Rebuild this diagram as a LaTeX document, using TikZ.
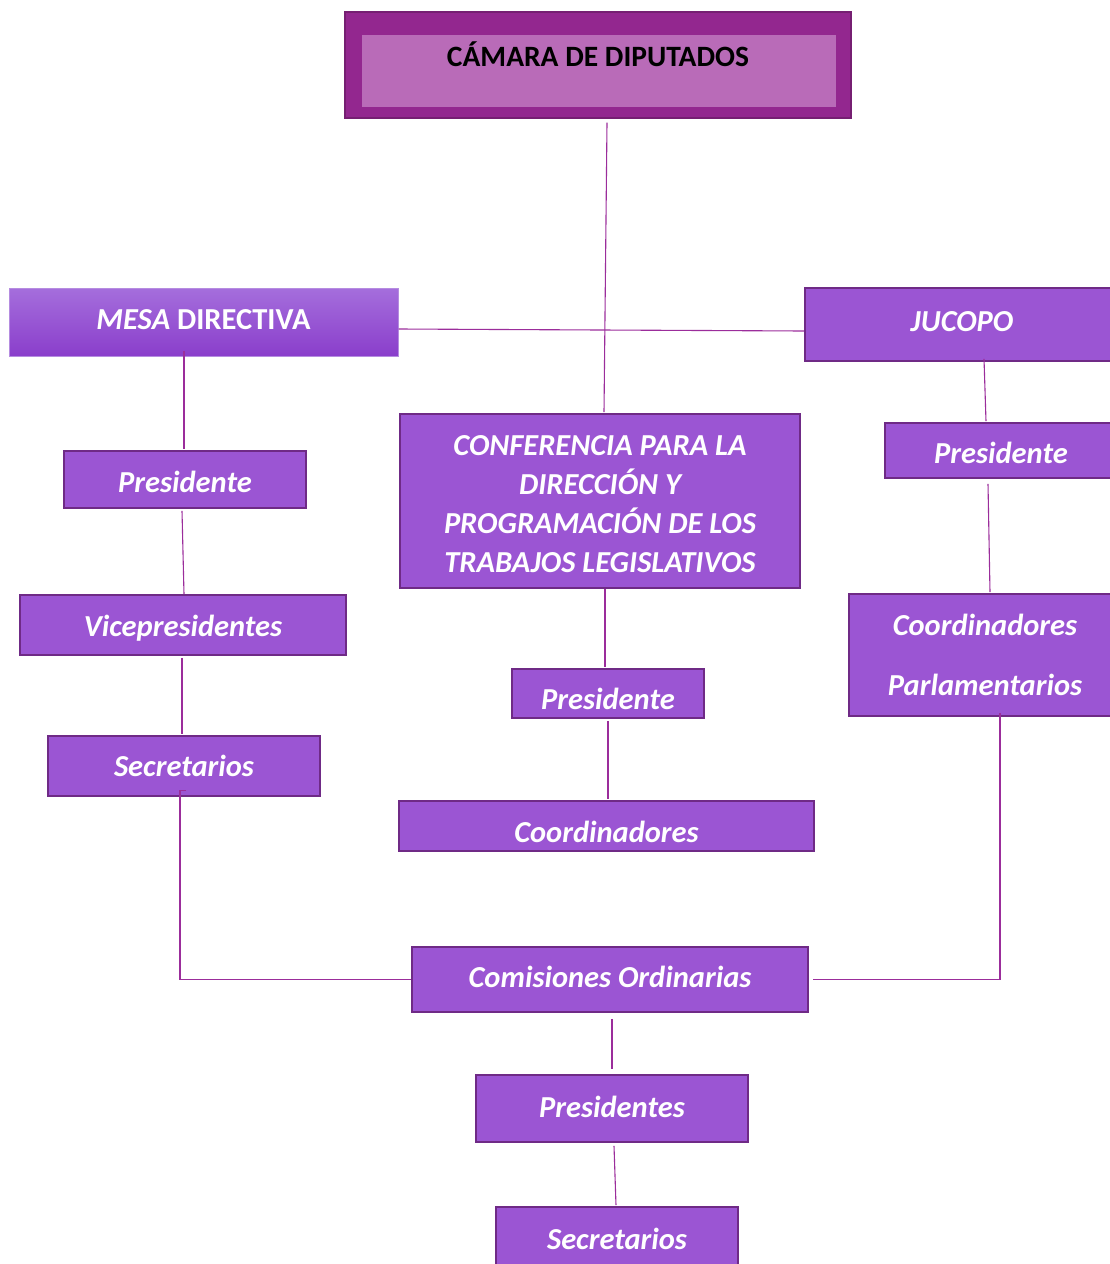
\documentclass[tikz,border=0pt]{standalone}
\usepackage{fontspec}
\setmainfont{Carlito}
\usetikzlibrary{calc}
\definecolor{boxfill}{HTML}{9B55D3}
\definecolor{boxbord}{HTML}{6F2A86}
\definecolor{camout}{HTML}{93278F}
\definecolor{camin}{HTML}{B96BB8}
\definecolor{linec}{HTML}{9B2D9B}
\definecolor{mesatop}{HTML}{A56EDC}
\definecolor{mesabot}{HTML}{8A3ECB}
\definecolor{mesabord}{HTML}{B58CE0}
\newcommand{\shiftv}[2]{\raisebox{#1}[\height][\depth]{#2}}
\tikzset{
  orgbox/.style={draw=boxbord, fill=boxfill, line width=1.6pt, text=white,
    font=\fontsize{30.5}{39}\selectfont\bfseries\itshape, inner sep=0pt, align=center, anchor=center},
  conn/.style={draw=linec, line width=1.1pt}
}
\begin{document}
\begin{tikzpicture}[x=1pt,y=-1pt]
\useasboundingbox (0,0) rectangle (1110,1264);
\begin{scope}
\clip (0,0) rectangle (1110,1264);
% top box
\node[draw=camout!80!black, fill=camout, line width=1.2pt, minimum width=506pt, minimum height=106pt, inner sep=0pt] (cam) at (598,65) {};
\node[fill=camin, minimum width=474pt, minimum height=72pt, inner sep=0pt] (camin) at (599,71) {};
\node[font=\fontsize{29.5}{32}\selectfont\bfseries, text=black, inner sep=0pt] (camt) at (598,54) {CÁMARA DE DIPUTADOS};
% level 1
\node[orgbox, draw=mesabord, line width=1pt, top color=mesatop, bottom color=mesabot, minimum width=389pt, minimum height=68pt] (mesa) at (203.5,322) {\shiftv{2pt}{{\itshape MESA} {\upshape DIRECTIVA}}};
\node[orgbox, minimum width=314pt, minimum height=73pt] (jucopo) at (962,324.5) {\shiftv{3pt}{JUCOPO}};
\node[orgbox, minimum width=400pt, minimum height=174pt] (conf) at (600,501) {\shiftv{-3pt}{\parbox{390pt}{\centering CONFERENCIA PARA LA\\DIRECCIÓN Y\\PROGRAMACIÓN DE LOS\\TRABAJOS LEGISLATIVOS}}};
% left column
\node[orgbox, minimum width=242pt, minimum height=57pt] (presL) at (185,479.5) {\shiftv{-2pt}{Presidente}};
\node[orgbox, minimum width=326pt, minimum height=60pt] (vice) at (183,625) {\shiftv{-3pt}{Vicepresidentes}};
\node[orgbox, minimum width=272pt, minimum height=60pt] (secL) at (184,766) {Secretarios};
% middle column
\node[orgbox, minimum width=192pt, minimum height=49pt] (presM) at (608,693.5) {\shiftv{-5pt}{Presidente}};
\node[orgbox, minimum width=415pt, minimum height=50pt] (coord) at (606.5,826) {\shiftv{-6pt}{Coordinadores}};
% right column
\node[orgbox, minimum width=232pt, minimum height=55pt] (presR) at (1001,450.5) {\shiftv{-2pt}{Presidente}};
\node[orgbox, minimum width=272pt, minimum height=122pt, font=\fontsize{30.5}{60}\selectfont\bfseries\itshape] (coordP) at (985,655) {Coordinadores\\Parlamentarios};
% bottom
\node[orgbox, minimum width=396pt, minimum height=65pt] (com) at (610,979.5) {\shiftv{3pt}{Comisiones Ordinarias}};
\node[orgbox, minimum width=272pt, minimum height=67pt] (presB) at (612,1108.5) {\shiftv{2pt}{Presidentes}};
\node[orgbox, minimum width=242pt, minimum height=63pt] (secB) at (617,1238.5) {Secretarios};
% connectors
\draw[conn] ($(cam.south)+(9,4)$) -- ($(conf.north)+(4,-1)$);
\draw[conn] ($(mesa.east)+(0,7)$) -- ($(jucopo.west)+(0,6.5)$);
\draw[conn] ($(mesa.south)+(-19.5,-6)$) -- ($(presL.north)+(-1,-1)$);
\draw[conn] ($(presL.south)+(-3,2)$) -- ($(vice.north)+(1,0)$);
\draw[conn] ($(vice.south)+(-1,2)$) -- ($(secL.north)+(-2,-1)$);
\draw[conn] ($(secL.south)+(2,-6)$) -- ++(-6,0) |- (com.west);
\draw[conn] ($(conf.south)+(5,0)$) -- ($(presM.north)+(-3,-1)$);
\draw[conn] ($(presM.south)+(0,2)$) -- ($(coord.north)+(1.5,-1)$);
\draw[conn] ($(jucopo.south)+(22,-3)$) -- ($(presR.north)+(-15,-1)$);
\draw[conn] ($(presR.south)+(-13,5)$) -- ($(coordP.north)+(5,-1)$);
\draw[conn] ($(coordP.south)+(15,-4)$) |- ($(com.east)+(4,0)$);
\draw[conn] ($(com.south)+(2,6)$) -- ($(presB.north)+(0,-5)$);
\draw[conn] ($(presB.south)+(2,3)$) -- ($(secB.north)+(-1,-1)$);
\end{scope}
\end{tikzpicture}
\end{document}
